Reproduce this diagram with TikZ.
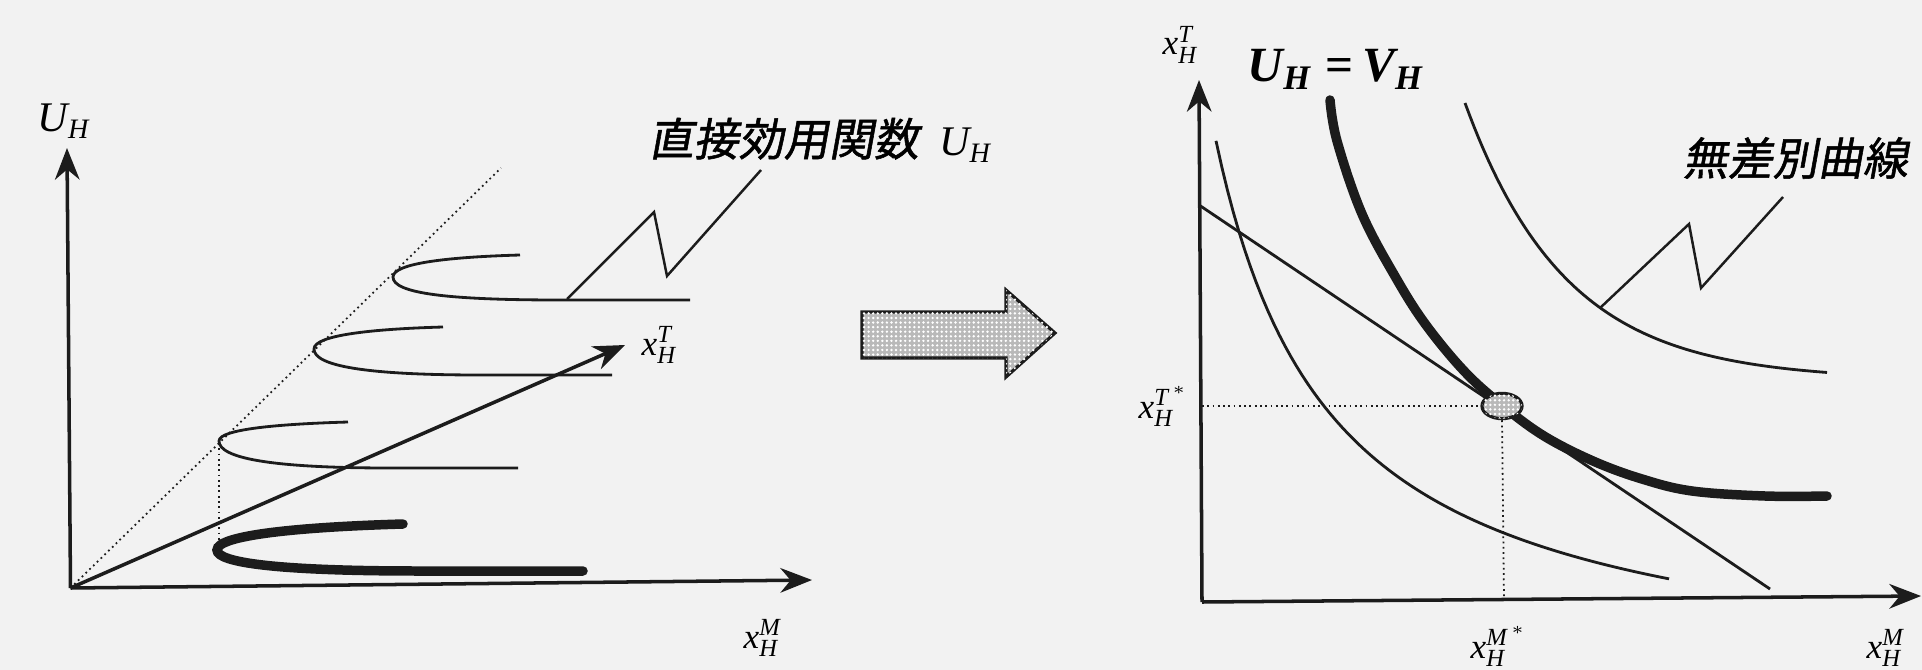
\documentclass[tikz,border=0pt]{standalone}
\usepackage{amsmath}
\usepackage{fontspec}
\setmainfont{Liberation Serif}
\newfontfamily\jpfont[FakeSlant=0.18, FakeBold=1.2]{Noto Sans CJK JP}
\usetikzlibrary{arrows.meta,patterns.meta,shapes.geometric}
\definecolor{ink}{RGB}{28,28,28}
\definecolor{paper}{RGB}{242,242,242}
\newcommand\vv[3]{$\textit{#1}^{\textit{#2}}_{\textit{#3}}$}
\begin{document}
\begin{tikzpicture}[x=0.01cm,y=-0.01cm,
  axisline/.style={draw=ink, line width=1pt, -{Stealth[length=9pt,width=7pt]}},
  thincurve/.style={draw=ink, line width=0.8pt},
  heavycurve/.style={draw=ink, line width=2.7pt, line cap=round},
  dotline/.style={draw=ink, line width=0.5pt, densely dotted},
  leader/.style={draw=ink, line width=0.7pt},
  lbl/.style={inner sep=0pt, font=\fontsize{10}{12}\selectfont},
  jlbl/.style={inner sep=0pt, font=\fontsize{12.8}{15}\selectfont},
  screen/.style={draw=ink, line width=0.9pt, fill=gray!55,
    postaction={pattern={Dots[distance=1.3pt,radius=0.38pt]}, pattern color=white}}
]
\fill[paper] (0,0) rectangle (1922,670);
\useasboundingbox (0,0) rectangle (1922,670);

% ---------------- left panel ----------------
\coordinate (O1) at (70.5,588);
\coordinate (Y1) at (67,148);
\coordinate (X1) at (812,580);
\coordinate (T1) at (625,345);
\coordinate (D1) at (501,168);
\draw[axisline] (O1) -- (Y1);
\draw[axisline] (O1) -- (X1);
\draw[axisline] (O1) -- (T1);
\draw[dotline] (O1) -- (D1);

\node[lbl, anchor=base west, font=\fontsize{12}{14}\selectfont] (uh) at (37,132) {$\textit{U}_{\textit{H}}$};
\node[lbl, anchor=base west] (xt1) at (641,355) {\vv{x}{T}{H}};
\node[lbl, anchor=base west] (xm1) at (743,648) {\vv{x}{M}{H}};

% utility curves
\draw[thincurve] (520,255) .. controls (450,257) and (393,263) .. (393,277)
  .. controls (393,293) and (445,300) .. (560,300) -- (690,300);
\draw[thincurve] (443,327) .. controls (373,329) and (314,335) .. (314,349)
  .. controls (314,366) and (366,375) .. (480,375) -- (612,375);
\draw[thincurve] (348,422) .. controls (280,424) and (219,429) .. (219,441)
  .. controls (219,458) and (270,468) .. (390,468) -- (518,468);
\draw[heavycurve] (403,524) .. controls (300,527) and (217,535) .. (217,550)
  .. controls (217,563) and (280,571) .. (420,571) -- (583,571);
\coordinate (v3) at (219,443);
\coordinate (v4) at (219,546);
\draw[dotline] (v3) -- (v4);

% label and leader
\node[jlbl, anchor=west] (dlab) at (648,140) {\jpfont 直接効用関数\hspace{0.45em}{\rmfamily\fontsize{12}{14}\selectfont$\textit{U}_{\textit{H}}$}};
\coordinate (l1) at (567,299);
\coordinate (l2) at (654,212);
\coordinate (l3) at (667,276);
\coordinate (l4) at (761,170);
\draw[leader] (l1) -- (l2) -- (l3) -- (l4);

% ---------------- middle arrow ----------------
\draw[screen] (862,312) -- (1006,312) -- (1006,290) -- (1055,333) -- (1006,377)
  -- (1006,358) -- (862,358) -- cycle;

% ---------------- right panel ----------------
\coordinate (O2) at (1202,602);
\coordinate (Y2) at (1199,80);
\coordinate (X2) at (1921,596);
\draw[axisline] (O2) -- (Y2);
\draw[axisline] (O2) -- (X2);

% budget line
\coordinate (b1) at (1199,205);
\coordinate (b2) at (1770,589);
\draw[thincurve] (b1) -- (b2);

% indifference curves
\draw[thincurve] plot[domain=1216:1669, samples=80] (\x, {691-638.18/((\x-1100)/100)});
\draw[thincurve] plot[domain=1465:1827, samples=80] (\x, {380-277*exp(-(\x-1465)/100.5)});
\draw[heavycurve] plot[smooth, tension=0.6] coordinates {(1330,100) (1337,141) (1362,214) (1396,278) (1426,325) (1465,372) (1503,406) (1544,436) (1593,461) (1642,479) (1692,491) (1765,496) (1827,496)};

% optimum
\node[ellipse, draw=ink, line width=0.9pt, fill=gray!55,
  postaction={pattern={Dots[distance=1.3pt,radius=0.38pt]}, pattern color=white},
  minimum width=11.4pt, minimum height=7.2pt, inner sep=0pt] (E) at (1502,406) {};
\coordinate (ya) at (1202,406);
\coordinate (xa) at (1504,600);
\draw[dotline] (ya) -- (E.west);
\draw[dotline] (E.south) -- (xa);

% labels
\node[lbl, anchor=base west] (xt2) at (1162,55) {\vv{x}{T}{H}};
\node[lbl, anchor=base west, font=\fontsize{14}{17}\selectfont\bfseries] (uv) at (1247,82) {$\textit{U}_{\textit{H}}\;\text{=}\,\textit{V}_{\textit{H}}$};
\node[lbl, anchor=base west] (xts) at (1138,418) {$\textit{x}^{\textit{T}^{\,*}}_{\textit{H}}$};
\node[lbl, anchor=base west] (xms) at (1470,658) {$\textit{x}^{\textit{M}^{\,*}}_{\textit{H}}$};
\node[lbl, anchor=base west] (xm2) at (1866,658) {\vv{x}{M}{H}};

\node[jlbl, anchor=west] (ilab) at (1682,158) {\jpfont 無差別曲線};
\coordinate (r1) at (1600,308);
\coordinate (r2) at (1689,224);
\coordinate (r3) at (1701,288);
\coordinate (r4) at (1783,197);
\draw[leader] (r1) -- (r2) -- (r3) -- (r4);
\end{tikzpicture}
\end{document}
